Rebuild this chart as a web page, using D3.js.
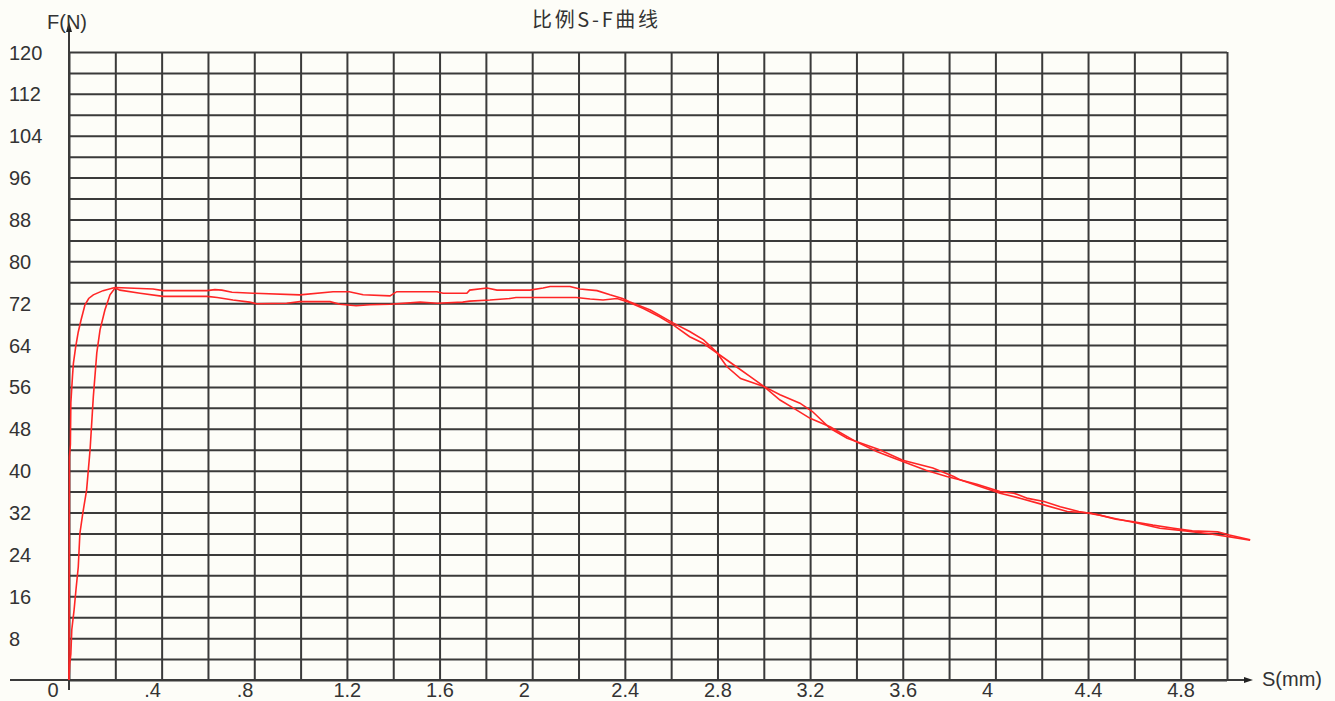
<!DOCTYPE html>
<html>
<head>
<meta charset="utf-8">
<script src="https://cdn.jsdelivr.net/npm/d3@7"></script>
<style>
  body { margin: 0; background: #fdfdf8; }
  svg { display: block; }
  .lbl { font-family: "Liberation Sans", Arial, sans-serif; font-size: 20px; fill: #333; }
</style>
</head>
<body>
<div id="chart"></div>
<script>
// S (mm) / F (N), two test curves
const curve1S = [0, 0.001, 0.002, 0.006, 0.008, 0.015, 0.019, 0.029, 0.04, 0.052, 0.069, 0.085, 0.105, 0.147, 0.19, 0.2,
  0.363, 0.406, 0.596, 0.63, 0.66, 0.704, 0.795, 0.997, 1.14, 1.21, 1.27, 1.386, 1.415, 1.589, 1.615, 1.718, 1.73, 1.805, 1.848, 1.99, 2.047, 2.077, 2.163, 2.206, 2.28, 2.336, 2.39, 2.42,
  2.51, 2.61, 2.68, 2.74, 2.81, 2.88, 2.94, 3.0,
  3.07, 3.156, 3.21, 3.286, 3.36, 3.5, 3.6, 3.73, 3.82, 3.85, 3.92, 4.02, 4.08, 4.14, 4.21, 4.28, 4.36, 4.45, 4.52, 4.59, 4.68, 4.77, 4.85, 4.96, 5.01, 5.1];
const curve1F = [0, 20, 42.6, 45, 53, 58, 60.5, 63.7, 66.5, 68.8, 71.7, 72.9, 73.6, 74.4, 74.9, 75,
  74.7, 74.4, 74.4, 74.6, 74.5, 74.1, 73.9, 73.6, 74.2, 74.2, 73.6, 73.4, 74.2, 74.2, 73.9, 73.9, 74.5, 74.9, 74.5, 74.5, 74.9, 75.2, 75.2, 74.7, 74.4, 73.6, 72.9, 72.3,
  70.7, 68.2, 66.6, 65.0, 62.1, 59.9, 58.0, 56.1,
  54.5, 52.9, 51.3, 48.1, 46.2, 44.0, 42.0, 40.5, 38.9, 38.2, 37.4, 36.0, 35.7, 34.7, 34.1, 33.1, 32.2, 31.5, 30.7, 30.3, 29.6, 29.0, 28.5, 28.3, 27.7, 26.8];

const curve2S = [0, 0.003, 0.008, 0.012, 0.022, 0.03, 0.04, 0.047, 0.06, 0.076, 0.091, 0.105, 0.12, 0.134, 0.155, 0.177, 0.199,
  0.22, 0.307, 0.406, 0.596, 0.64, 0.708, 0.78, 0.81, 0.94, 0.997, 1.127, 1.17, 1.24, 1.3, 1.386, 1.516, 1.59, 1.7, 1.73, 1.818, 1.904, 1.93, 2.19, 2.25, 2.306, 2.366, 2.41,
  2.48, 2.55, 2.61, 2.68, 2.74, 2.8, 2.84, 2.9, 3.0,
  3.07, 3.13, 3.2, 3.286, 3.4, 3.49, 3.56, 3.62, 3.7, 3.79, 3.85, 3.93, 4.02, 4.11, 4.19, 4.31, 4.41, 4.51, 4.62, 4.71, 4.82, 4.93, 5.02, 5.1];
const curve2F = [0, 3, 5, 9.6, 13.4, 17.2, 21.6, 28, 32, 36.3, 44, 54.1, 62.5, 66.9, 70.7, 73.6, 74.9,
  74.5, 73.9, 73.3, 73.3, 73.1, 72.6, 72.2, 71.9, 72.0, 72.3, 72.3, 71.8, 71.5, 71.7, 71.8, 72.2, 72.0, 72.2, 72.4, 72.6, 72.9, 73.1, 73.1, 72.8, 72.6, 72.9, 72.3,
  71.0, 69.4, 67.8, 65.6, 64.3, 62.4, 59.9, 57.6, 56.1,
  53.5, 51.9, 50.0, 48.4, 45.5, 43.6, 42.4, 41.4, 40.1, 38.9, 38.2, 37.0, 35.7, 34.7, 33.7, 32.2, 31.9, 30.9, 29.9, 29.0, 28.5, 27.9, 27.3, 26.7];

const xTickValues = [0, 0.4, 0.8, 1.2, 1.6, 2, 2.4, 2.8, 3.2, 3.6, 4, 4.4, 4.8];
const xTickLabels = ["0", ".4", ".8", "1.2", "1.6", "2", "2.4", "2.8", "3.2", "3.6", "4", "4.4", "4.8"];
const yTickValues = [8, 16, 24, 32, 40, 48, 56, 64, 72, 80, 88, 96, 104, 112, 120];

const W = 1335, H = 701;
const plotL = 69, plotR = 1227, plotT = 52, plotB = 680;

const x = d3.scaleLinear().domain([0, 5]).range([plotL, plotR]);
const y = d3.scaleLinear().domain([0, 120]).range([plotB, plotT]);

const svg = d3.select("#chart").append("svg")
  .attr("width", W)
  .attr("height", H)
  .style("background", "#fdfdf8");

const gridColor = "#3a3a3a";

// vertical grid
svg.append("g")
  .attr("transform", `translate(0,${plotB})`)
  .call(d3.axisBottom(x).tickValues(d3.range(0, 26).map(i => i * 0.2)).tickSize(-(plotB - plotT)).tickFormat(""))
  .call(g => g.select(".domain").remove())
  .call(g => g.selectAll("line").attr("stroke", gridColor).attr("stroke-width", 2));

// horizontal grid
svg.append("g")
  .attr("transform", `translate(${plotL},0)`)
  .call(d3.axisLeft(y).tickValues(d3.range(0, 31).map(i => i * 4)).tickSize(-(plotR - plotL)).tickFormat(""))
  .call(g => g.select(".domain").remove())
  .call(g => g.selectAll("line").attr("stroke", gridColor).attr("stroke-width", 2));

// axes lines with arrows
svg.append("line").attr("x1", 10).attr("x2", 1246).attr("y1", plotB).attr("y2", plotB)
  .attr("stroke", gridColor).attr("stroke-width", 2);
svg.append("path").attr("d", `M1244,${plotB - 3}L1253,${plotB}L1244,${plotB + 3}Z`).attr("fill", "#222");
svg.append("line").attr("x1", plotL).attr("x2", plotL).attr("y1", 690).attr("y2", 28)
  .attr("stroke", gridColor).attr("stroke-width", 2);
svg.append("path").attr("d", `M${plotL - 3},32L${plotL},22L${plotL + 3},32Z`).attr("fill", "#222");

// y labels
svg.append("g")
  .attr("transform", `translate(${plotL},0)`)
  .call(d3.axisLeft(y).tickValues(yTickValues).tickSize(0).tickFormat(d => d))
  .call(g => g.select(".domain").remove())
  .call(g => g.attr("font-size", null).attr("font-family", null))
  .call(g => g.selectAll("text")
    .attr("class", "lbl")
    .attr("x", 9 - plotL)
    .attr("dy", "0.35em")
    .attr("text-anchor", "start"));

// x labels
svg.append("g")
  .attr("transform", `translate(0,${plotB})`)
  .call(d3.axisBottom(x).tickValues(xTickValues).tickSize(0).tickFormat((d, i) => xTickLabels[i]))
  .call(g => g.select(".domain").remove())
  .call(g => g.attr("font-size", null).attr("font-family", null))
  .call(g => g.selectAll("text")
    .attr("class", "lbl")
    .attr("y", 17)
    .attr("dy", 0)
    .attr("text-anchor", "start")
    .attr("x", (d, i) => xTickLabels[i] === "0" ? -22 : xTickLabels[i][0] === "." ? -18 : -14));

// curves
const line = d3.line().x(d => x(d[0])).y(d => y(d[1]));
[[curve1S, curve1F], [curve2S, curve2F]].forEach(([s, f]) => {
  svg.append("path")
    .datum(s.map((v, i) => [v, f[i]]))
    .attr("d", line)
    .attr("fill", "none")
    .attr("stroke", "#ff2626")
    .attr("stroke-width", 1.6);
});

// titles
svg.append("text").attr("class", "lbl").attr("x", 47).attr("y", 29).text("F(N)");
svg.append("text").attr("class", "lbl").attr("x", 1262).attr("y", 686).text("S(mm)");
svg.append("text")
  .attr("x", 532).attr("y", 27)
  .attr("textLength", 126).attr("lengthAdjust", "spacing")
  .style("font-family", "'Noto Sans CJK SC', sans-serif")
  .style("font-size", "20px")
  .style("fill", "#333")
  .text("比例S-F曲线");
</script>
</body>
</html>
